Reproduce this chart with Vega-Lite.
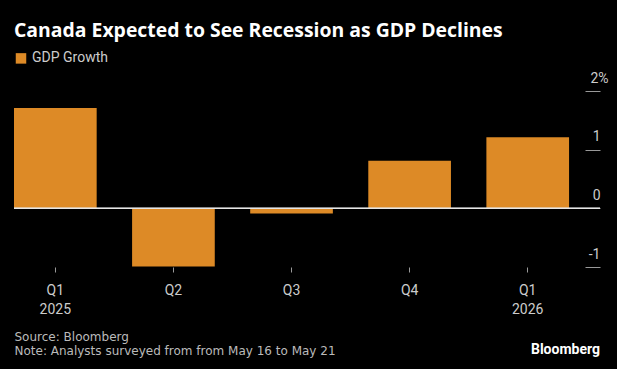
{
  "$schema": "https://vega.github.io/schema/vega-lite/v6.json",
  "width": 617,
  "height": 369,
  "autosize": {"type": "fit", "contains": "padding"},
  "padding": {"left": 13, "right": 9, "top": 22, "bottom": 12},
  "background": "#000000",
  "title": {
    "text": "Bloomberg",
    "orient": "bottom",
    "anchor": "end",
    "frame": "group",
    "font": "Roboto",
    "fontSize": 14,
    "fontWeight": "bold",
    "color": "#ffffff",
    "offset": -13
  },
  "data": {
    "values": [
      {"quarter": "Q1 2025", "growth": 1.71},
      {"quarter": "Q2 2025", "growth": -0.99},
      {"quarter": "Q3 2025", "growth": -0.09},
      {"quarter": "Q4 2025", "growth": 0.81},
      {"quarter": "Q1 2026", "growth": 1.21}
    ]
  },
  "layer": [
    {
      "mark": {"type": "bar"},
      "encoding": {
        "x": {
          "field": "quarter",
          "type": "nominal",
          "sort": null,
          "scale": {"paddingInner": 0.3, "paddingOuter": 0.131, "align": 0},
          "axis": {
            "title": ["Source: Bloomberg", "Note: Analysts surveyed from from May 16 to May 21"],
            "labelExpr": "substring(datum.value, 0, 2) == 'Q1' ? split(datum.value, ' ') : substring(datum.value, 0, 2)"
          }
        },
        "y": {
          "field": "growth",
          "type": "quantitative",
          "scale": {"domain": [-1, 2], "nice": false, "zero": false},
          "axis": {
            "title": null,
            "orient": "right",
            "values": [-1, 0, 1, 2],
            "labelExpr": "datum.value == 2 ? '2%' : (datum.value < 0 ? '-' + abs(datum.value) : '' + datum.value)"
          }
        },
        "color": {
          "datum": "GDP Growth",
          "scale": {"range": ["#dd8a26"]},
          "legend": {
            "orient": "top",
            "direction": "horizontal",
            "title": "Canada Expected to See Recession as GDP Declines"
          }
        }
      }
    },
    {
      "mark": {"type": "rule", "color": "#e6e6e6", "strokeWidth": 1},
      "encoding": {"y": {"datum": 0}}
    }
  ],
  "config": {
    "view": {"stroke": null},
    "font": "Roboto, sans-serif",
    "axisX": {
      "domain": false,
      "grid": false,
      "ticks": true,
      "tickColor": "#999999",
      "tickSize": 5,
      "labelFont": "Roboto, sans-serif",
      "labelFontSize": 14,
      "labelColor": "#cccccc",
      "labelPadding": 11,
      "labelBaseline": "top",
      "labelLineHeight": 19,
      "labelAngle": 0,
      "titleFont": "DejaVu Sans, sans-serif",
      "titleFontSize": 12,
      "titleFontWeight": "normal",
      "titleColor": "#bbbbbb",
      "titleAnchor": "start",
      "titleAlign": "left",
      "titleLineHeight": 14,
      "titlePadding": 15
    },
    "axisY": {
      "domain": false,
      "grid": false,
      "offset": -15,
      "tickSize": 15,
      "tickColor": "#999999",
      "labelFont": "Roboto, sans-serif",
      "labelFontSize": 14,
      "labelColor": "#cccccc",
      "labelAlign": "right",
      "labelBaseline": "alphabetic",
      "labelOffset": -9,
      "labelPadding": {"condition": {"test": "datum.value == 2", "value": 8}, "value": 0}
    },
    "legend": {
      "titleFont": "Open Sans",
      "titleFontSize": 19.4,
      "titleFontWeight": "bold",
      "titleColor": "#ffffff",
      "titleLimit": 700,
      "titlePadding": 10,
      "labelFont": "Roboto, sans-serif",
      "labelFontSize": 14,
      "labelColor": "#cccccc",
      "symbolType": "square",
      "symbolSize": 110,
      "symbolStrokeWidth": 0,
      "offset": 25,
      "padding": 0
    }
  }
}
